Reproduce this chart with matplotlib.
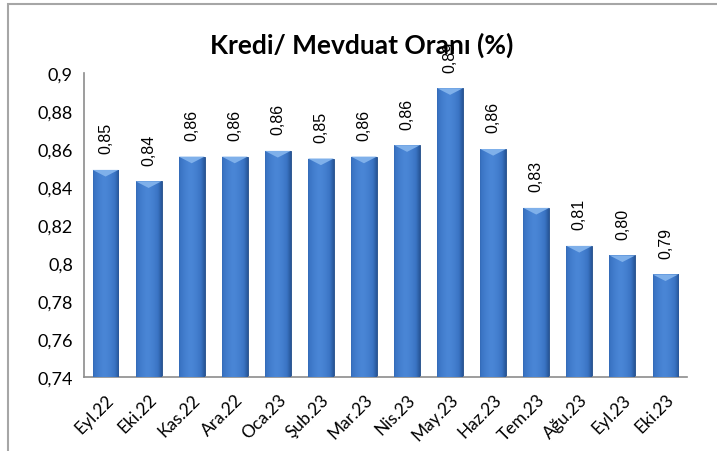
import matplotlib
matplotlib.use('Agg')
import matplotlib.pyplot as plt
import numpy as np
from matplotlib.patches import Rectangle

# --- data ---
months = ['Eyl.22', 'Eki.22', 'Kas.22', 'Ara.22', 'Oca.23', 'Şub.23', 'Mar.23',
          'Nis.23', 'May.23', 'Haz.23', 'Tem.23', 'Ağu.23', 'Eyl.23', 'Eki.23']
ratio = [0.849, 0.843, 0.856, 0.856, 0.859, 0.855, 0.856,
         0.862, 0.892, 0.860, 0.829, 0.809, 0.804, 0.794]
yticks = [0.74, 0.76, 0.78, 0.8, 0.82, 0.84, 0.86, 0.88, 0.9]

plt.rcParams['font.family'] = ['Lato', 'DejaVu Sans']

fig = plt.figure(figsize=(7.17, 4.52), dpi=100)
ax = fig.add_axes([84 / 717, 1 - 378 / 452, (687 - 84) / 717, (378 - 74) / 452])

# outer chart frame (only top and left edges fall inside the image)
fig.patches.append(Rectangle((8 / 717, -0.1), 2, (452 - 5) / 452 + 0.1,
                             transform=fig.transFigure, fill=False,
                             edgecolor='#a6a6a6', lw=1.5))

x = np.arange(len(months))
bars = ax.bar(x, ratio, width=0.6, color='#3a74c4', edgecolor='#1f4a85', lw=0.6,
              zorder=2)

# horizontal shading to mimic the bevelled bars
grad = np.linspace(0, 1, 64)
shade = 1 - 0.55 * np.abs(grad - 0.45) ** 1.5 * 2
cmap = matplotlib.colors.LinearSegmentedColormap.from_list(
    'b', ['#1d4580', '#3a74c4', '#4a86d6'])
for b in bars:
    x0, w, h = b.get_x(), b.get_width(), b.get_height()
    im = ax.imshow(shade[None, :], cmap=cmap, vmin=0.45, vmax=1, aspect='auto',
                   extent=[x0, x0 + w, 0.74, h], zorder=3)
    im.set_clip_path(b)
    # lighter triangular bevel on top
    ax.fill([x0, x0 + w, x0 + w / 2], [h, h, h - 0.0035],
            color='#7fb0ea', zorder=4, lw=0)

for xi, v in zip(x, ratio):
    ax.annotate(f'{v:.2f}'.replace('.', ','), (xi, v), xytext=(0, 12),
                textcoords='offset points', rotation=90, ha='center', va='bottom',
                fontsize=11.5, family=['Liberation Sans'], zorder=5)

ax.set_xlim(-0.5, len(months) - 0.5)
ax.set_ylim(0.74, 0.9)
ax.set_yticks(yticks)
ax.set_yticklabels([f'{t:g}'.replace('.', ',') for t in yticks], fontsize=13)
ax.set_xticks(x)
ax.set_xticklabels(months, rotation=45, ha='right', rotation_mode='anchor',
                   fontsize=12.5)
ax.tick_params(length=0, pad=8)
ax.tick_params(axis='x', pad=10)
for s in ['top', 'right']:
    ax.spines[s].set_visible(False)
for s in ['left', 'bottom']:
    ax.spines[s].set_color('#8c8c8c')
    ax.spines[s].set_linewidth(1.2)

fig.text(362 / 717, 1 - 45 / 452, 'Kredi/ Mevduat Oranı (%)', ha='center',
         va='center', fontsize=19, fontweight='bold')

fig.savefig('out.png', dpi=100)
